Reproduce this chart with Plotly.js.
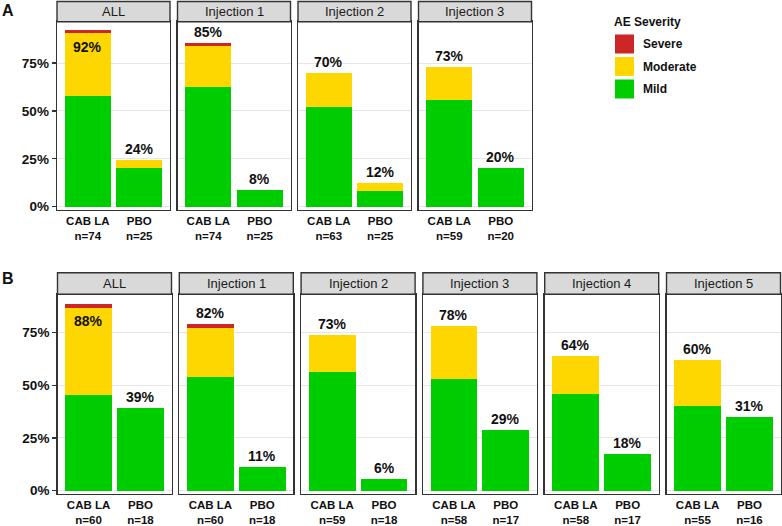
<!DOCTYPE html>
<html>
<head>
<meta charset="utf-8">
<script src="https://cdn.plot.ly/plotly-3.0.1.min.js"></script>
<style>html,body{margin:0;padding:0;background:#fff}#chart{width:782px;height:526px}</style>
</head>
<body>
<div id="chart"></div>
<script>
// ---------------- data ----------------
const categories = ["CAB LA", "PBO"];
const severities = ["Severe", "Moderate", "Mild"];

// Panel A
const panelsA = ["ALL", "Injection 1", "Injection 2", "Injection 3"];
const nA_cab = [74, 74, 63, 59];
const nA_pbo = [25, 25, 25, 20];
const mildA_cab = [57.9, 62.3, 52.2, 55.7];
const modA_cab  = [32.6, 21.4, 17.7, 17.3];
const sevA_cab  = [1.6, 1.9, 0, 0];
const mildA_pbo = [20.0, 8.5, 8.2, 20.2];
const modA_pbo  = [4.6, 0, 4.2, 0];
const sevA_pbo  = [0, 0, 0, 0];
const labelsA_cab = ["92%", "85%", "70%", "73%"];
const labelsA_pbo = ["24%", "8%", "12%", "20%"];

// Panel B
const panelsB = ["ALL", "Injection 1", "Injection 2", "Injection 3", "Injection 4", "Injection 5"];
const nB_cab = [60, 60, 59, 58, 58, 55];
const nB_pbo = [18, 18, 18, 17, 17, 16];
const mildB_cab = [45.4, 53.8, 56.3, 52.9, 45.7, 40.0];
const modB_cab  = [41.2, 23.3, 17.2, 25.1, 18.1, 22.0];
const sevB_cab  = [1.7, 1.7, 0, 0, 0, 0];
const mildB_pbo = [39.0, 11.1, 5.7, 28.7, 17.2, 34.7];
const modB_pbo  = [0, 0, 0, 0, 0, 0];
const sevB_pbo  = [0, 0, 0, 0, 0, 0];
const labelsB_cab = ["88%", "82%", "73%", "78%", "64%", "60%"];
const labelsB_pbo = ["39%", "11%", "6%", "29%", "18%", "31%"];

const yTicks = [0, 25, 50, 75];

// ---------------- styling ----------------
const COLORS = {Severe: "#CD2626", Moderate: "#FFD700", Mild: "#00CD00"};
const FONT = "Liberation Sans, Arial, sans-serif";
const W = 782, H = 526;
const px = x => x / W;
const py = y => 1 - y / H;

const rows = [
  {letter: "A", panels: panelsA, nc: nA_cab, np: nA_pbo,
   mild: [mildA_cab, mildA_pbo], mod: [modA_cab, modA_pbo], sev: [sevA_cab, sevA_pbo],
   lab: [labelsA_cab, labelsA_pbo],
   left0: 57, step: 120.5, width: 113, top: 21.7, bottom: 210, stripTop: 1.5,
   range: [-1.7, 96.6], letterY: 10},
  {letter: "B", panels: panelsB, nc: nB_cab, np: nB_pbo,
   mild: [mildB_cab, mildB_pbo], mod: [modB_cab, modB_pbo], sev: [sevB_cab, sevB_pbo],
   lab: [labelsB_cab, labelsB_pbo],
   left0: 57.5, step: 121.8, width: 114, top: 294.3, bottom: 494, stripTop: 272.7,
   range: [-1.56, 93.0], letterY: 278}
];

const traces = [];
const layout = {
  width: W, height: H,
  margin: {l: 0, r: 0, t: 0, b: 0, pad: 0},
  paper_bgcolor: "#fff", plot_bgcolor: "#fff",
  barmode: "stack", showlegend: false,
  font: {family: FONT, color: "#111"},
  shapes: [], annotations: []
};

let k = 0;
rows.forEach(row => {
  row.panels.forEach((pname, i) => {
    k++;
    const xa = k === 1 ? "x" : "x" + k;
    const ya = k === 1 ? "y" : "y" + k;
    const xKey = k === 1 ? "xaxis" : "xaxis" + k;
    const yKey = k === 1 ? "yaxis" : "yaxis" + k;
    const left = row.left0 + i * row.step;
    const right = left + row.width;

    const layers = [["Mild", row.mild], ["Moderate", row.mod], ["Severe", row.sev]];
    layers.forEach(([sev, arr]) => {
      traces.push({
        type: "bar", x: categories, y: [arr[0][i], arr[1][i]],
        xaxis: xa, yaxis: ya, width: 0.9, name: sev,
        marker: {color: COLORS[sev], line: {width: 0}},
        hoverinfo: "skip"
      });
    });

    layout[xKey] = {
      domain: [px(left), px(right)], anchor: ya, type: "category",
      range: [-0.6, 1.6], fixedrange: true,
      tickvals: categories,
      ticktext: [`CAB LA<br>n=${row.nc[i]}`, `PBO<br>n=${row.np[i]}`],
      tickfont: {family: FONT, size: 11.5, color: "#111", weight: 700},
      ticks: "", showgrid: false, zeroline: false,
      showline: true, mirror: true, linecolor: "#333", linewidth: 1.4
    };
    layout[yKey] = {
      domain: [py(row.bottom), py(row.top)], anchor: xa,
      range: row.range, fixedrange: true,
      tickvals: yTicks, ticktext: yTicks.map(v => v + "%"),
      showticklabels: i === 0, ticks: i === 0 ? "outside" : "",
      ticklen: 4, tickwidth: 1.2, tickcolor: "#333",
      tickfont: {family: FONT, size: 13.5, color: "#111", weight: 700},
      showgrid: true, gridcolor: "#E6E6E6", gridwidth: 1, zeroline: false,
      showline: true, mirror: true, linecolor: "#333", linewidth: 1.4
    };

    // strip
    layout.shapes.push({
      type: "rect", xref: "paper", yref: "paper",
      x0: px(left), x1: px(right), y0: py(row.top), y1: py(row.stripTop),
      fillcolor: "#D9D9D9", line: {color: "#333", width: 1.4}, layer: "above"
    });
    layout.annotations.push({
      xref: "paper", yref: "paper", x: px((left + right) / 2), y: py((row.top + row.stripTop) / 2),
      text: pname, showarrow: false, xanchor: "center", yanchor: "middle",
      font: {family: FONT, size: 13, color: "#1a1a1a"}
    });

    // value labels
    [0, 1].forEach(c => {
      const total = row.mild[c][i] + row.mod[c][i] + row.sev[c][i];
      const inside = total + 8 > row.range[1];
      layout.annotations.push({
        xref: xa, yref: ya, x: categories[c], y: total,
        text: row.lab[c][i], showarrow: false, xanchor: "center",
        yanchor: inside ? "top" : "bottom", yshift: inside ? -7 : 1,
        font: {family: FONT, size: 14, color: "#111", weight: 700}
      });
    });
  });

  layout.annotations.push({
    xref: "paper", yref: "paper", x: 0, y: py(row.letterY),
    text: row.letter, showarrow: false, xanchor: "left", yanchor: "middle",
    font: {family: FONT, size: 16, color: "#111", weight: 700}
  });
});

// legend (drawn manually)
layout.annotations.push({
  xref: "paper", yref: "paper", x: px(612), y: py(22.5),
  text: "AE Severity", showarrow: false, xanchor: "left", yanchor: "middle",
  font: {family: FONT, size: 12, color: "#111", weight: 700}
});
severities.forEach((s, j) => {
  const y0 = 34.5 + j * 22.5;
  layout.shapes.push({
    type: "rect", xref: "paper", yref: "paper",
    x0: px(615), x1: px(634), y0: py(y0 + 19), y1: py(y0),
    fillcolor: COLORS[s], line: {width: 0}
  });
  layout.annotations.push({
    xref: "paper", yref: "paper", x: px(640.5), y: py(y0 + 9.5),
    text: s, showarrow: false, xanchor: "left", yanchor: "middle",
    font: {family: FONT, size: 12, color: "#111", weight: 700}
  });
});

Plotly.newPlot("chart", traces, layout, {displayModeBar: false, staticPlot: true});
</script>
</body>
</html>
